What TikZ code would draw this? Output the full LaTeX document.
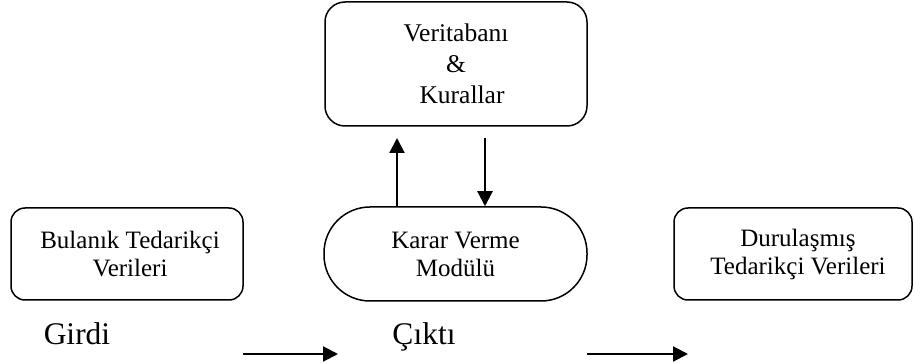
\documentclass[tikz,border=0pt]{standalone}
\usepackage{fontspec}
\setmainfont{Liberation Serif}
\usetikzlibrary{arrows.meta}
\begin{document}
\begin{tikzpicture}[x=1pt,y=-1pt,
 box/.style={draw, line width=1.5pt, rounded corners=14pt, inner sep=0pt, align=center, font=\fontsize{25}{28}\selectfont},
 lbl/.style={font=\fontsize{31.5}{36}\selectfont, inner sep=0pt, anchor=base},
 arr/.style={line width=2.2pt, -{Triangle[length=15pt,width=15pt]}}]
\useasboundingbox (0,0) rectangle (914,363);
\node[box, minimum width=262pt, minimum height=124pt, rounded corners=20pt, font=\fontsize{25.5}{31}\selectfont] (db) at (456,64) {Veritabanı\\\&\\\hspace*{12pt}Kurallar};
\node[box, minimum width=232pt, minimum height=92pt] (girdibox) at (127,254) {\hspace*{6pt}Bulanık Tedarikçi\\\hspace*{6pt}Verileri};
\node[box, minimum width=263pt, minimum height=94pt, rounded corners=46pt] (karar) at (455.5,254) {Karar Verme\\Modülü};
\node[box, minimum width=238pt, minimum height=92pt] (cikti) at (793,254) {\hspace*{10pt}Durulaşmış\\\hspace*{10pt}Tedarikçi Verileri};
\node[lbl] (girdi) at (77,345) {Girdi};
\node[lbl] (ciktilbl) at (424,345) {Çıktı};
\coordinate (u1) at (397,138);
\coordinate (d0) at (485,138);
\coordinate (a1s) at (243,354);
\coordinate (a1e) at (338,354);
\coordinate (a2s) at (587,354);
\coordinate (a2e) at (688,354);
\draw[arr] (karar.north -| u1) -- (u1);
\draw[arr] (d0) -- (d0 |- karar.north);
\draw[arr] (a1s) -- (a1e);
\draw[arr] (a2s) -- (a2e);
\end{tikzpicture}
\end{document}
